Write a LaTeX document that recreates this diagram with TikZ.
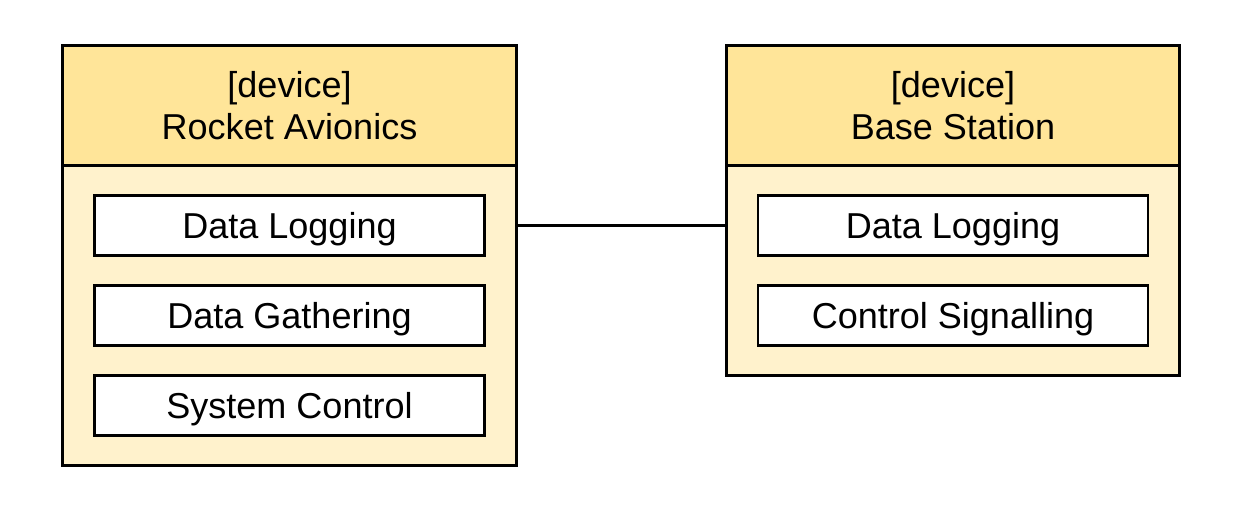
\documentclass[tikz,border=0pt]{standalone}
\usepackage{fontspec}
\setmainfont{Liberation Sans}
\usetikzlibrary{positioning,chains}
\definecolor{devhead}{HTML}{FFE599}
\definecolor{devbody}{HTML}{FFF2CC}
\tikzset{
  deploy schemes/.style = {
    line width    = 1.6pt,
    node distance = 6mm,
    % device box
    hd/.style = {draw, fill=devhead, minimum width=9.07cm,
      minimum height=2.4cm, inner sep=0pt, outer sep=0pt,
      align=center, font=\fontsize{20.5}{23.5}\selectfont},
    bd/.style = {draw, fill=devbody, minimum width=9.07cm,
      inner sep=0pt, outer sep=0pt},
    % component cell
    cn/.style = {draw, fill=white, minimum width=7.8cm,
      minimum height=1.2cm, inner sep=0pt, outer sep=0pt, on chain,
      text depth=-0.1cm, font=\fontsize{20.5}{24}\selectfont},
    connect line/.style = {line width=1.6pt},
  }
}
\begin{document}
\begin{tikzpicture}[deploy schemes]
\useasboundingbox (0,0) rectangle (24.72,10.48);

% Rocket avionics
\node[hd] (avhead) at (5.79,8.37) {[device]\\Rocket Avionics};
\node[bd, minimum height=6cm, below=0pt of avhead] (avbody) {};
\begin{scope}[start chain=avpart going below]
  \node[cn, below=6mm of avhead] (avpart-1) {Data Logging};
  \node[cn] (avpart-2) {Data Gathering};
  \node[cn] (avpart-3) {System Control};
\end{scope}

% Base station
\node[hd] (bshead) at (19.06,8.37) {[device]\\Base Station};
\node[bd, minimum height=4.2cm, below=0pt of bshead] (bsbody) {};
\begin{scope}[start chain=bspart going below]
  \node[cn, below=6mm of bshead] (bspart-1) {Data Logging};
  \node[cn] (bspart-2) {Control Signalling};
\end{scope}

\draw[connect line] (avbody.east |- avpart-1) -- (bsbody.west |- bspart-1);
\end{tikzpicture}
\end{document}
